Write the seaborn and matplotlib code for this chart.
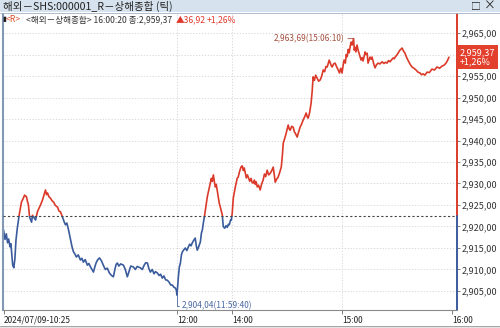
import matplotlib
matplotlib.use("Agg")
import matplotlib.pyplot as plt
from matplotlib.patches import Rectangle
import seaborn as sns
import pandas as pd

# ---------------- data ----------------
# session minutes since 10:25 KST (morning 10:25-12:30 -> 0-125, afternoon 14:00-16:00 -> 125-245)
session_min = [
    0, 0.8, 1.5, 2.2, 2.8, 3.5, 4.0, 4.5, 5.0, 5.6, 6.2, 6.8, 7.6, 8.7, 9.8, 10.6, 11.5, 12.5, 13.2, 13.6,
    14.2, 15.3, 15.8, 16.4, 17.5, 18.5, 19.3, 20.2, 21.3, 22.2, 22.9, 23.5, 24.0, 24.8, 25.6, 26.5, 27.3,
    28.3, 29.5, 30.3, 31.1, 32.2, 33.0, 33.8, 34.6, 35.5, 36.6, 37.4, 38.2, 39.0, 39.8, 40.8, 42.0, 42.8,
    43.6, 44.6, 45.8, 46.6, 47.5, 48.3, 49.1, 50.0, 50.7, 51.5, 52.4,
    53.5, 54.5, 55.6, 56.7, 57.8, 59.0, 60.0, 60.8, 61.5, 62.2, 63.0, 64.0, 65.5, 66.5, 67.6, 68.5, 69.5,
    70.9, 72.0, 73.0, 74.7, 75.8, 76.8, 77.7, 78.6, 79.4, 80.2, 81.2, 82.2, 83.0, 84.0, 85.0, 85.8, 86.7,
    87.6, 88.5, 89.5, 90.5, 91.3, 92.2, 93.0, 93.8, 94.4, 94.7,
    95.0, 95.5, 96.0, 96.6, 97.2, 97.7, 98.5, 99.3, 100.1, 100.9, 101.7, 102.4, 103.1, 103.9, 104.7, 105.3,
    105.8, 106.6, 107.5, 108.1, 108.6, 109.2, 109.7, 110.5, 111.3, 112.1, 112.9, 113.5, 114.0, 114.6,
    115.2, 115.7, 116.2, 116.7, 117.3, 117.8, 118.6, 119.5, 120.0, 120.8, 121.5, 122.2, 122.8, 123.3,
    124.0, 124.4, 124.9,
    125.5, 126.1, 126.6, 127.2, 127.7, 128.2, 128.8, 129.3, 129.8, 130.4, 131.0, 131.5, 132.1, 132.6,
    133.2, 133.7, 134.5, 135.2, 135.8, 136.4, 137.0, 137.5, 138.0, 138.6, 139.3, 140.2, 140.9, 141.8,
    142.5, 143.2, 144.0, 144.8, 145.7, 146.5, 147.3, 147.9, 148.4, 149.2, 150.0, 150.8, 151.7, 152.3,
    152.8, 153.6, 154.4, 155.0, 155.5, 156.1, 156.6, 157.4, 158.2, 158.9, 159.6, 160.4, 161.2, 162.0,
    162.8, 163.7, 164.5, 165.3, 165.9, 166.4, 167.2, 168.0, 168.6, 169.1, 169.8, 170.5, 171.3, 172.1,
    173.0, 173.8, 174.6, 175.4, 176.1, 176.8, 177.4, 177.9, 178.5, 179.0, 179.5, 180.3, 181.1, 181.9,
    182.8, 183.5, 184.2, 184.9, 185.5, 186.0, 186.7, 187.2, 187.7, 188.3, 188.8, 189.4, 189.9, 190.4,
    190.8, 191.2, 191.6, 192.0, 192.5, 193.1, 193.7, 194.4, 195.3, 195.9, 196.4, 197.0, 197.5, 198.0,
    198.6, 199.1, 199.7, 200.2, 200.8, 201.3, 202.1, 202.9, 203.7, 204.6, 205.6, 206.8, 207.8, 208.6,
    209.5, 210.3, 211.1, 212.0, 212.8, 213.4, 213.9, 214.7, 215.5, 216.3, 217.0, 217.7, 218.5, 219.3,
    220.1, 220.9, 222.0, 223.1, 224.2, 225.3, 226.4, 227.5, 228.3, 229.1, 230.2, 231.3, 232.6, 234.0,
    235.4, 236.8, 238.2, 239.5, 240.6, 241.7, 242.5, 243.3,
]
prices = [
    2919.2, 2917.0, 2918.3, 2916.2, 2917.1, 2915.3, 2916.0, 2913.5, 2911.0, 2910.4, 2912.5, 2916.9, 2919.9,
    2923.1, 2925.7, 2926.4, 2927.3, 2926.9, 2925.6, 2925.0, 2922.2, 2921.0, 2922.6, 2922.2, 2921.5, 2923.4,
    2924.2, 2925.0, 2926.2, 2927.5, 2928.5, 2927.4, 2927.8, 2926.9, 2926.6, 2926.0, 2925.7, 2924.9, 2924.5,
    2923.6, 2923.4, 2922.2, 2921.2, 2920.4, 2920.8, 2919.2, 2916.9, 2915.3, 2914.1, 2913.6, 2912.9, 2913.4,
    2912.2, 2912.6, 2911.7, 2912.3, 2911.0, 2911.4, 2910.6, 2910.0, 2909.4, 2910.8, 2911.7, 2912.3, 2912.7,
    2912.0, 2911.0, 2910.0, 2910.3, 2909.2, 2908.6, 2908.3, 2910.0, 2911.2, 2911.5, 2910.8, 2911.3, 2911.0,
    2910.0, 2908.3, 2909.5, 2910.8, 2910.6, 2910.0, 2910.7, 2910.4, 2910.0, 2911.0, 2911.6, 2911.5, 2910.2,
    2909.4, 2910.0, 2909.0, 2909.5, 2909.2, 2908.6, 2908.9, 2908.0, 2908.5, 2907.6, 2907.5, 2907.0, 2906.4,
    2906.4, 2905.9, 2905.7, 2905.2, 2904.04,
    2905.5, 2908.3, 2910.5, 2911.5, 2913.5, 2914.1, 2914.6, 2915.0, 2914.4, 2915.2, 2915.9, 2915.5, 2916.2,
    2916.8, 2917.3, 2915.5, 2914.5, 2915.3, 2916.4, 2918.5, 2919.2, 2921.0, 2922.2, 2924.5, 2926.9, 2928.5,
    2930.1, 2931.2, 2930.5, 2932.0, 2930.3, 2929.2, 2929.8, 2928.5, 2927.0, 2925.5, 2924.2, 2922.7, 2920.0,
    2919.6, 2920.2, 2919.8, 2920.5, 2920.4, 2921.5, 2921.5, 2923.0,
    2926.6, 2928.0, 2929.2, 2930.4, 2931.3, 2931.5, 2932.6, 2933.3, 2933.9, 2934.1, 2933.0, 2933.6, 2932.3,
    2931.3, 2932.0, 2931.4, 2930.5, 2931.2, 2930.2, 2930.1, 2930.8, 2929.8, 2930.4, 2929.2, 2929.6, 2928.5,
    2929.8, 2930.8, 2932.2, 2931.6, 2933.1, 2932.0, 2932.4, 2933.0, 2933.8, 2932.0, 2930.3, 2931.0, 2931.5,
    2932.5, 2933.8, 2936.5, 2939.4, 2940.5, 2941.7, 2942.8, 2943.6, 2942.6, 2942.4, 2943.3, 2943.1, 2942.0,
    2941.5, 2940.8, 2942.0, 2943.1, 2943.8, 2944.8, 2945.5, 2946.4, 2945.5, 2945.2, 2946.5, 2948.7, 2951.5,
    2954.8, 2954.0, 2955.2, 2954.5, 2953.8, 2954.1, 2955.0, 2956.4, 2956.0, 2957.2, 2957.1, 2958.0, 2958.7,
    2958.0, 2957.4, 2957.1, 2957.8, 2958.0, 2957.2, 2956.4, 2955.7, 2956.8, 2955.7, 2957.5, 2958.7, 2958.0,
    2960.0, 2959.5, 2961.2, 2960.4, 2962.0, 2962.9, 2962.2, 2963.0, 2963.69, 2961.0, 2961.7, 2960.6, 2962.2,
    2961.0, 2960.0, 2958.7, 2959.3, 2958.5, 2959.6, 2960.6, 2960.0, 2960.3, 2958.0, 2958.8, 2959.4, 2958.9,
    2959.4, 2958.0, 2956.9, 2957.6, 2958.0, 2957.8, 2958.3, 2957.9, 2958.2, 2958.0, 2958.6, 2958.3, 2958.8,
    2959.2, 2959.0, 2959.4, 2959.8, 2960.3, 2960.9, 2961.2, 2961.5, 2960.8, 2960.3, 2959.4, 2958.7, 2957.8,
    2957.1, 2956.8, 2956.4, 2955.9, 2955.7, 2955.3, 2955.5, 2955.2, 2955.9, 2955.8, 2956.6, 2956.4, 2957.1,
    2956.8, 2957.3, 2957.5, 2958.0, 2958.6, 2959.37,
]
prev_close = 2922.45
last_price = 2959.37
change = 36.92
change_pct = 1.26
high_min, high_val, high_time = 191.2, 2963.69, "15:06:10"
low_min, low_val, low_time = 94.7, 2904.04, "11:59:40"

x_ticks = [0, 95, 125, 185, 245]
x_labels = ["2024/07/09-10:25", "12:00", "14:00", "15:00", "16:00"]
y_ticks = [2905, 2910, 2915, 2920, 2925, 2930, 2935, 2940, 2945, 2950, 2955, 2960, 2965]
y_hidden = [2960]   # label covered by the current-price box in the reference

title_text = "해외－SHS:000001_R－상해종합 (틱)"

# ---------------- style ----------------
sns.set_theme(style="white")
plt.rcParams['font.family'] = ['Noto Sans CJK KR', 'DejaVu Sans']

RED = "#db3a2a"
BLUE = "#3a5c9c"
W, H = 500, 328


def fx(px):
    return px / W


def fy(py):
    return 1 - py / H


def kfmt(v):
    return f"{v:,.2f}".replace(".", ",")


df = pd.DataFrame({"t": session_min, "p": prices})

fig = plt.figure(figsize=(5.0, 3.28), dpi=100)
fig.patch.set_facecolor("white")
ax = fig.add_axes([fx(3), fy(310), fx(457) - fx(3), fy(14) - fy(310)])

ylo, yhi = 2900.58, 2969.42
xlo, xhi = -0.3, 247.7
ax.set_xlim(xlo, xhi)
ax.set_ylim(ylo, yhi)

# grid
ax.set_yticks(y_ticks)
ax.grid(axis="y", color="#d4d4d4", linestyle=(0, (1.5, 2.0)), linewidth=0.6)
for xt in x_ticks[1:4]:
    ax.axvline(xt, color="#d4d4d4", linestyle=(0, (1.5, 2.0)), linewidth=0.6, zorder=0.5)

# line: red above previous close, blue below
sns.lineplot(data=df, x="t", y="p", ax=ax, color=RED, linewidth=1.2, estimator=None, sort=False)
sns.lineplot(data=df, x="t", y="p", ax=ax, color=BLUE, linewidth=1.2, estimator=None, sort=False)
line_red, line_blue = ax.lines[-2], ax.lines[-1]
clip_up = Rectangle((xlo - 10, prev_close), (xhi - xlo) + 20, 200, transform=ax.transData)
clip_dn = Rectangle((xlo - 10, prev_close - 200), (xhi - xlo) + 20, 200, transform=ax.transData)
line_red.set_clip_path(clip_up)
line_blue.set_clip_path(clip_dn)

# previous close dashed line
ax.axhline(prev_close, color="#444444", linestyle=(0, (2, 2)), linewidth=0.8, zorder=3)

# right axis line (red above, blue below)
ax.plot([1, 1], [prev_close, yhi], color=RED, linewidth=1.4, transform=ax.get_yaxis_transform(), clip_on=False)
ax.plot([1, 1], [ylo, prev_close], color=BLUE, linewidth=1.4, transform=ax.get_yaxis_transform(), clip_on=False)

# spines
for s in ["top", "right"]:
    ax.spines[s].set_visible(False)
ax.spines["left"].set_color("#8298b4")
ax.spines["left"].set_linewidth(1.5)
ax.spines["bottom"].set_color("#8a8a8a")
ax.spines["bottom"].set_linewidth(0.8)

# ticks
ax.yaxis.tick_right()
ax.set_yticklabels(["" if v in y_hidden else kfmt(v) for v in y_ticks])
ax.tick_params(axis="y", direction="out", length=2, width=0.6, color="#666666", pad=1,
               labelsize=6.5, labelcolor="#333333")
ax.set_xticks(x_ticks)
ax.set_xticklabels(x_labels)
for lab in ax.get_xticklabels():
    lab.set_horizontalalignment("left")
ax.tick_params(axis="x", direction="out", length=3, width=0.6, color="#666666", pad=1,
               labelsize=6, labelcolor="#222222", bottom=True)
ax.set_xlabel("")
ax.set_ylabel("")

# annotations
ax.annotate(f"{kfmt(high_val)}({high_time})", xy=(high_min, high_val), xytext=(-9, 0),
            textcoords="offset pixels", ha="right", va="center", fontsize=6, color="#a4503e",
            arrowprops=dict(arrowstyle="-", color="#a4503e", lw=0.6, shrinkA=0, shrinkB=0))
ax.annotate(f"{kfmt(low_val)}({low_time})", xy=(low_min, low_val), xytext=(5, -11),
            textcoords="offset pixels", ha="left", va="center", fontsize=6, color="#4a68a2",
            arrowprops=dict(arrowstyle="-", color="#4a68a2", lw=0.6, shrinkA=0, shrinkB=0,
                            connectionstyle="angle,angleA=0,angleB=90,rad=0"),
            annotation_clip=False)

# current price box
ax.text(1.006, last_price, f"{kfmt(last_price)}\n+{kfmt(change_pct)}%", transform=ax.get_yaxis_transform(),
        ha="left", va="center", fontsize=6.5, color="white", linespacing=1.1, clip_on=False, zorder=10,
        bbox=dict(boxstyle="square,pad=0.3", fc="#e2402c", ec="none"))

# title bar
fig.patches.append(Rectangle((0, fy(12)), 1, 12 / H, transform=fig.transFigure,
                             facecolor="#d6e2ed", edgecolor="none", zorder=1))
fig.lines.append(plt.Line2D([0, 1], [fy(12.5), fy(12.5)], transform=fig.transFigure,
                            color="#9fb2c6", linewidth=0.6))
fig.text(fx(3), fy(6.5), title_text, fontsize=7.6, color="#222222", ha="left", va="center")
fig.text(fx(476), fy(6.5), "□", fontsize=7, color="#222222", ha="center", va="center")
fig.text(fx(490), fy(6.5), "×", fontsize=8.5, color="#222222", ha="center", va="center")

# info line
iy = fy(19.5)
fig.text(fx(2), iy, "▮", fontsize=5, color="#222222", ha="left", va="center")
fig.text(fx(6), iy, "<R>", fontsize=6.2, color="#d8502c", ha="left", va="center")
fig.text(fx(26), iy, f"<해외－상해종합> 16:00:20 종:{kfmt(last_price)}", fontsize=6.2,
         color="#333333", ha="left", va="center")
fig.text(fx(176), iy, f"▲{kfmt(change)}", fontsize=6.2, color="#e0392b", ha="left", va="center")
fig.text(fx(207), iy, f"+{kfmt(change_pct)}%", fontsize=6.2, color="#e0392b", ha="left", va="center")

# bottom frame
fig.lines.append(plt.Line2D([0, 1], [fy(325.5), fy(325.5)], transform=fig.transFigure,
                            color="#9a9a9a", linewidth=0.6))
fig.patches.append(Rectangle((0, 0), 1, 2.5 / H, transform=fig.transFigure,
                             facecolor="#e4e4e4", edgecolor="none"))

fig.savefig("out.png", dpi=100, facecolor="white")
